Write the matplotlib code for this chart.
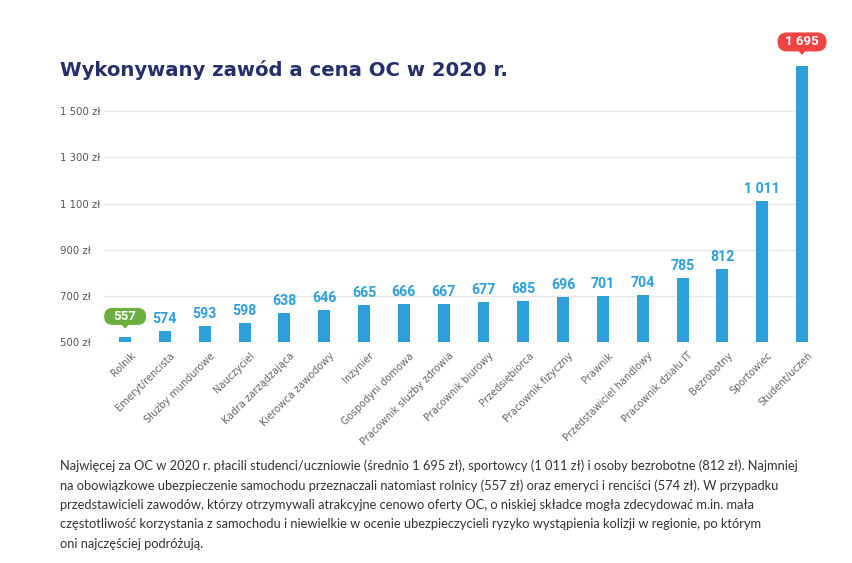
import matplotlib
matplotlib.use("Agg")
from matplotlib import pyplot as plt
from matplotlib.patches import FancyBboxPatch, Polygon
from matplotlib.transforms import ScaledTranslation

# data
jobs = ["Rolnik", "Emeryt/rencista", "Służby mundurowe", "Nauczyciel",
        "Kadra zarządzająca", "Kierowca zawodowy", "Inżynier", "Gospodyni domowa",
        "Pracownik służby zdrowia", "Pracownik biurowy", "Przedsiębiorca",
        "Pracownik fizyczny", "Prawnik", "Przedstawiciel handlowy",
        "Pracownik działu IT", "Bezrobotny", "Sportowiec", "Student/uczeń"]
prices = [557, 574, 593, 598, 638, 646, 665, 666, 667, 677, 685, 696,
          701, 704, 785, 812, 1011, 1695]
# bar heights as drawn in the original graphic
bar_heights = [522, 550, 572, 585, 628, 638, 660, 664, 667, 676, 680, 695,
               700, 703, 780, 816, 1110, 1696]
yticks = [500, 700, 900, 1100, 1300, 1500]
ytick_labels = ["500 zł", "700 zł", "900 zł", "1 100 zł", "1 300 zł", "1 500 zł"]

title = "Wykonywany zawód a cena OC w 2020 r."
note_lines = [
    "Najwięcej za OC w 2020 r. płacili studenci/uczniowie (średnio 1 695 zł), sportowcy (1 011 zł) i osoby bezrobotne (812 zł). Najmniej",
    "na obowiązkowe ubezpieczenie samochodu przeznaczali natomiast rolnicy (557 zł) oraz emeryci i renciści (574 zł). W przypadku",
    "przedstawicieli zawodów, którzy otrzymywali atrakcyjne cenowo oferty OC, o niskiej składce mogła zdecydować m.in. mała",
    "częstotliwość korzystania z samochodu i niewielkie w ocenie ubezpieczycieli ryzyko wystąpienia kolizji w regionie, po którym",
    "oni najczęściej podróżują.",
]

BLUE = "#2d9fdb"
NAVY = "#252f6b"
GREEN = "#6aaf3f"
RED = "#f04444"
GREY = "#666666"

plt.rcParams["font.family"] = ["DejaVu Sans"]

W, H = 852, 563
fig = plt.figure(figsize=(W / 100, H / 100), dpi=100)
ax = fig.add_axes([104 / W, 1 - 342.3 / H, 704 / W, 277.6 / H])

x = list(range(len(jobs)))
ax.bar(x, [h - 500 for h in bar_heights], bottom=500, width=0.3, color=BLUE, zorder=3)
ax.set_xlim(-0.53, 17.15)
ax.set_ylim(500, 1700)

for s in ax.spines.values():
    s.set_visible(False)
ax.set_yticks(yticks)
ax.set_yticklabels(ytick_labels, fontsize=7.3, color="#555555", ha="left")
ax.tick_params(axis="y", length=0, pad=31.7)
ax.grid(axis="y", color="#e6e6e6", linewidth=1, zorder=0)

ax.set_xticks(x)
ax.set_xticklabels(jobs, rotation=45, ha="right", va="top", rotation_mode="anchor",
                   fontsize=7.1, color=GREY)
ax.tick_params(axis="x", length=0, pad=6)
for lab in ax.get_xticklabels():
    lab.set_transform(lab.get_transform() + ScaledTranslation(0.05, 0, fig.dpi_scale_trans))


def bubble(i, h, text, color, w, hh, dy, tip):
    tr = fig.dpi_scale_trans + ScaledTranslation(i, h, ax.transData)
    box = FancyBboxPatch((-w / 200, dy / 100 - hh / 200), w / 100, hh / 100,
                         boxstyle="round,pad=0,rounding_size=%f" % (hh / 200),
                         fc=color, ec="none", transform=tr, clip_on=False, zorder=5)
    ax.add_patch(box)
    base = dy / 100 - hh / 200 + 0.01
    ax.add_patch(Polygon([(-0.04, base), (0.04, base), (0, tip / 100)], closed=True,
                         fc=color, ec="none", transform=tr, clip_on=False, zorder=5))
    ax.text(0, dy / 100, text, transform=tr, ha="center", va="center", color="white",
            fontsize=9.5, fontweight="bold", family="Roboto", zorder=6)


for i, (p, h) in enumerate(zip(prices, bar_heights)):
    txt = "{:,}".format(p).replace(",", " ")
    if i == 0:
        bubble(i, h, txt, GREEN, 42, 17, 20.8, 8.5)
    elif i == len(prices) - 1:
        bubble(i, h, txt, RED, 49, 19, 23.7, 10.7)
    else:
        ax.annotate(txt, (i, h), xytext=(0, 8.6), textcoords="offset points",
                    ha="center", va="center", color=BLUE, fontsize=10.2,
                    fontweight="bold", family="Roboto", zorder=6)

fig.text(60 / W, 1 - 70.5 / H, title, fontsize=14.1, fontweight="bold", color=NAVY,
         ha="left", va="center")

for k, line in enumerate(note_lines):
    fig.text(60 / W, 1 - (466 + 19.5 * k) / H, line, fontsize=9.3, color="#333333",
             ha="left", va="center", family="Lato")

fig.savefig("out.png", dpi=100, facecolor="white")
